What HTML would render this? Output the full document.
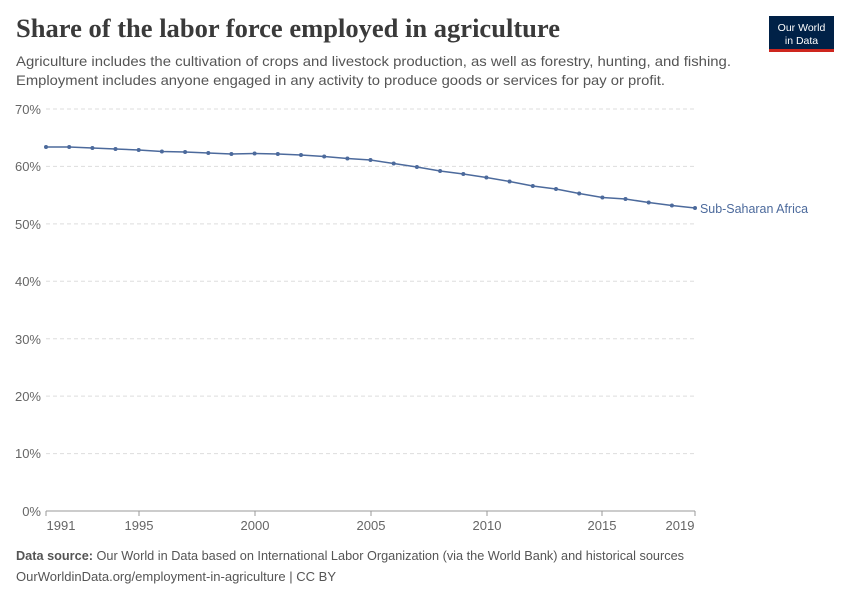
<!DOCTYPE html>
<html><head><meta charset="utf-8"><style>
body{margin:0;background:#fff;width:850px;height:600px;overflow:hidden;font-family:"Liberation Sans",sans-serif}
</style></head><body>
<svg width="850" height="600" xmlns="http://www.w3.org/2000/svg">
<text x="16" y="37" font-family="Liberation Serif,serif" font-size="26" font-weight="bold" fill="#3a3a3a" textLength="544" lengthAdjust="spacingAndGlyphs">Share of the labor force employed in agriculture</text>
<text x="16" y="66" font-size="14" fill="#555" textLength="715" lengthAdjust="spacingAndGlyphs">Agriculture includes the cultivation of crops and livestock production, as well as forestry, hunting, and fishing.</text>
<text x="16" y="85" font-size="14" fill="#555" textLength="649" lengthAdjust="spacingAndGlyphs">Employment includes anyone engaged in any activity to produce goods or services for pay or profit.</text>
<rect x="769" y="16" width="65" height="36" fill="#002147"/>
<rect x="769" y="49" width="65" height="3" fill="#ce261e"/>
<text x="801.5" y="31" font-size="10.5" fill="#fff" text-anchor="middle">Our World</text>
<text x="801.5" y="44" font-size="10.5" fill="#fff" text-anchor="middle">in Data</text>
<g stroke="#ddd" stroke-dasharray="4,3">
<line x1="46" x2="695" y1="109" y2="109"/><line x1="46" x2="695" y1="166.4" y2="166.4"/>
<line x1="46" x2="695" y1="223.9" y2="223.9"/><line x1="46" x2="695" y1="281.3" y2="281.3"/>
<line x1="46" x2="695" y1="338.7" y2="338.7"/><line x1="46" x2="695" y1="396.1" y2="396.1"/>
<line x1="46" x2="695" y1="453.6" y2="453.6"/>
</g>
<line x1="46" x2="695" y1="511" y2="511" stroke="#999"/>
<g font-size="13" fill="#666" text-anchor="end">
<text x="41" y="114">70%</text><text x="41" y="171">60%</text><text x="41" y="229">50%</text>
<text x="41" y="286">40%</text><text x="41" y="344">30%</text><text x="41" y="401">20%</text>
<text x="41" y="458">10%</text><text x="41" y="516">0%</text>
</g>
<g stroke="#999"><line x1="46" x2="46" y1="511" y2="516"/><line x1="139" x2="139" y1="511" y2="516"/><line x1="255" x2="255" y1="511" y2="516"/><line x1="371" x2="371" y1="511" y2="516"/><line x1="487" x2="487" y1="511" y2="516"/><line x1="602" x2="602" y1="511" y2="516"/><line x1="695" x2="695" y1="511" y2="516"/></g>
<g font-size="13" fill="#666" text-anchor="middle">
<text x="61" y="530">1991</text><text x="139" y="530">1995</text><text x="255" y="530">2000</text>
<text x="371" y="530">2005</text><text x="487" y="530">2010</text><text x="602" y="530">2015</text><text x="680" y="530">2019</text>
</g>
<polyline fill="none" stroke="#4c6a9c" stroke-width="1.5" points="46,147 69.2,147 92.4,148 115.5,149 138.7,150 161.9,151.5 185.1,152 208.3,153 231.4,154 254.6,153.5 277.8,154 301,155 324.2,156.5 347.4,158.5 370.5,160 393.7,163.5 416.9,167 440.1,171 463.3,174 486.4,177.5 509.6,181.5 532.8,186 556,189 579.2,193.5 602.4,197.5 625.5,199 648.7,202.5 671.9,205.5 695,208"/>
<g fill="#4c6a9c">
<circle cx="46" cy="147" r="2"/><circle cx="69.2" cy="147" r="2"/><circle cx="92.4" cy="148" r="2"/><circle cx="115.5" cy="149" r="2"/><circle cx="138.7" cy="150" r="2"/><circle cx="161.9" cy="151.5" r="2"/><circle cx="185.1" cy="152" r="2"/><circle cx="208.3" cy="153" r="2"/><circle cx="231.4" cy="154" r="2"/><circle cx="254.6" cy="153.5" r="2"/><circle cx="277.8" cy="154" r="2"/><circle cx="301" cy="155" r="2"/><circle cx="324.2" cy="156.5" r="2"/><circle cx="347.4" cy="158.5" r="2"/><circle cx="370.5" cy="160" r="2"/><circle cx="393.7" cy="163.5" r="2"/><circle cx="416.9" cy="167" r="2"/><circle cx="440.1" cy="171" r="2"/><circle cx="463.3" cy="174" r="2"/><circle cx="486.4" cy="177.5" r="2"/><circle cx="509.6" cy="181.5" r="2"/><circle cx="532.8" cy="186" r="2"/><circle cx="556" cy="189" r="2"/><circle cx="579.2" cy="193.5" r="2"/><circle cx="602.4" cy="197.5" r="2"/><circle cx="625.5" cy="199" r="2"/><circle cx="648.7" cy="202.5" r="2"/><circle cx="671.9" cy="205.5" r="2"/><circle cx="695" cy="208" r="2"/>
</g>
<text x="700" y="213" font-size="13" fill="#4c6a9c" textLength="108" lengthAdjust="spacingAndGlyphs">Sub-Saharan Africa</text>
<text x="16" y="560" font-size="12.5" fill="#555" textLength="668" lengthAdjust="spacingAndGlyphs"><tspan font-weight="bold">Data source:</tspan> Our World in Data based on International Labor Organization (via the World Bank) and historical sources</text>
<text x="16" y="581" font-size="12.5" fill="#555" textLength="320" lengthAdjust="spacingAndGlyphs">OurWorldinData.org/employment-in-agriculture | CC BY</text>
</svg>
</body></html>
